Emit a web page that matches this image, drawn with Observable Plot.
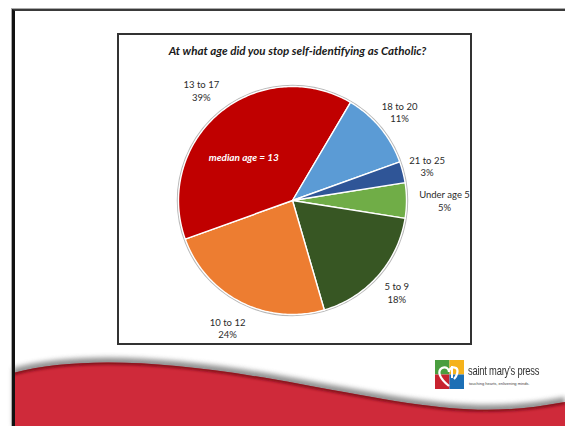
<!DOCTYPE html>
<html>
<head>
<meta charset="utf-8">
<script src="https://cdn.jsdelivr.net/npm/d3@7"></script>
<script src="https://cdn.jsdelivr.net/npm/@observablehq/plot@0.6"></script>
<style>
  html, body { margin: 0; padding: 0; background: #fff; }
  body { width: 565px; height: 426px; position: relative; overflow: hidden; font-family: Lato, "Open Sans", sans-serif; }
  #frame { position: absolute; left: 12px; top: 9px; width: 600px; height: 430px;
           border-top: 2px solid #3a3a3a; border-left: 3px solid #111;
           box-shadow: -1px -1px 0 #aaa; }
  #box { position: absolute; left: 117px; top: 33px; width: 351px; height: 308px;
         border: 2px solid #333; background: #fff; }
  #title { position: absolute; left: 117px; width: 355px; top: 44px; text-align: center;
           font: italic 700 11.6px Lato, sans-serif; color: #1a1a1a; padding-left: 3px; }
  #chart { position: absolute; left: 118px; top: 66px; }
  #deco { position: absolute; left: 0; top: 0; }
  #logo { position: absolute; left: 435px; top: 360px; }
  #brand { position: absolute; left: 468px; top: 363px; font: 400 13px "Liberation Sans Narrow", "Liberation Sans", sans-serif;
           color: #333; transform: scaleX(0.72); transform-origin: left top; white-space: nowrap; letter-spacing: -0.3px; }
  #tag { position: absolute; left: 469px; top: 381px; font: 400 4px "Liberation Sans", sans-serif; color: #444; white-space: nowrap; }
</style>
</head>
<body>
<svg id="deco" width="565" height="426">
  <defs>
    <filter id="sh" x="-10%" y="-30%" width="120%" height="160%">
      <feGaussianBlur stdDeviation="2.5"/>
    </filter>
    <filter id="sh2" x="-10%" y="-30%" width="120%" height="160%">
      <feGaussianBlur stdDeviation="1.6"/>
    </filter>
    <clipPath id="redclip">
      <path d="M13,373 C80,356 170,360 300,384 S480,418 565,402 L565,426 L13,426 Z"/>
    </clipPath>
  </defs>
  <path d="M13,368 C80,351 170,355 300,379 S480,413 565,397 L565,426 L13,426 Z" fill="#777" filter="url(#sh)" opacity="0.8"/>
  <path d="M13,373 C80,356 170,360 300,384 S480,418 565,402 L565,426 L13,426 Z" fill="#cf2a3a"/>
  <g clip-path="url(#redclip)">
    <path d="M13,373 C80,356 170,360 300,384 S480,418 565,402" fill="none" stroke="#7a0f18" stroke-width="4" filter="url(#sh2)"/>
  </g>
</svg>
<div id="frame"></div>
<div id="box"></div>
<div id="title">At what age did you stop self-identifying as Catholic?</div>
<div id="chart"></div>
<svg id="logo" width="29" height="29" viewBox="0 0 29 29">
  <rect x="0" y="0" width="14.5" height="14.5" fill="#4a9e3f"/>
  <rect x="14.5" y="0" width="14.5" height="14.5" fill="#f5b21b"/>
  <rect x="0" y="14.5" width="14.5" height="14.5" fill="#c8232f"/>
  <rect x="14.5" y="14.5" width="14.5" height="14.5" fill="#1c6fb5"/>
  <path d="M14,26 C4,18 2,11 7,8 C11,6 14,9 14,12 C14,9 17,6 21,8 C24,10 22,16 19,19" fill="none" stroke="#fff" stroke-width="2.2"/>
  <path d="M17,6 L17,18" stroke="#fff" stroke-width="2"/>
</svg>
<div id="brand">saint mary's press</div>
<div id="tag">touching hearts, enlivening minds.</div>
<script>
// ---- data ----
const categories = ["Under age 5", "5 to 9", "10 to 12", "13 to 17", "18 to 20", "21 to 25"];
const percents = [5, 18, 24, 39, 11, 3];
const sliceColors = ["#70AD47", "#375623", "#ED7D31", "#C00000", "#5B9BD5", "#2F5597"];
const annotation = "median age = 13";
const annotatedCategory = "13 to 17";

// ---- layout constants ----
const R = 114;
const startDeg = 81;
const labelGap = 25;
const labelNudge = {"Under age 5": 13, "13 to 17": 4, "10 to 12": 4};

const rows = categories.map((c, i) => ({category: c, value: percents[i], color: sliceColors[i]}));
const pie = d3.pie().sort(null).value(d => d.value)
  .startAngle(startDeg * Math.PI / 180)
  .endAngle(startDeg * Math.PI / 180 + 2 * Math.PI);
const arcs = pie(rows);

// polygon vertices for each slice
const poly = [];
for (const a of arcs) {
  poly.push({category: a.data.category, x: 0, y: 0});
  const n = Math.max(2, Math.ceil((a.endAngle - a.startAngle) / (Math.PI / 180)));
  for (let k = 0; k <= n; k++) {
    const t = a.startAngle + (a.endAngle - a.startAngle) * k / n;
    poly.push({category: a.data.category, x: R * Math.sin(t), y: R * Math.cos(t)});
  }
  poly.push({category: a.data.category, x: 0, y: 0});
}

const labels = arcs.map(a => {
  const m = (a.startAngle + a.endAngle) / 2;
  const rr = R + labelGap + (labelNudge[a.data.category] || 0);
  return {text: `${a.data.category}\n${a.data.value}%`, x: rr * Math.sin(m), y: rr * Math.cos(m)};
});

const ann = arcs.filter(a => a.data.category === annotatedCategory).map(a => {
  const m = (a.startAngle + a.endAngle) / 2;
  return {text: annotation, x: 0.56 * R * Math.sin(m) - 8, y: 0.56 * R * Math.cos(m) - 6};
});

const colorScale = {domain: categories, range: sliceColors};

const chart = Plot.plot({
  width: 352,
  height: 276,
  margin: 0,
  x: {domain: [-174, 178], axis: null},
  y: {domain: [-142, 134], axis: null},
  color: colorScale,
  style: {fontFamily: "Lato, sans-serif", background: "transparent", overflow: "visible"},
  marks: [
    Plot.dot([0], {x: () => 0, y: () => 0, r: R + 1, stroke: "#b8b8b8", strokeWidth: 1.5, fill: "none"}),
    Plot.line(poly, {x: "x", y: "y", z: "category", fill: "category", stroke: "#fff", strokeWidth: 1.4, strokeLinejoin: "round", curve: "linear"}),
    Plot.text(labels, {x: "x", y: "y", text: "text", fontSize: 9.5, lineHeight: 1.35, fill: "#2b2b2b", textAnchor: "middle"}),
    Plot.text(ann, {x: "x", y: "y", text: "text", fontSize: 10, fontStyle: "italic", fontWeight: 700, fill: "#fff"})
  ]
});
document.getElementById("chart").appendChild(chart);
</script>
</body>
</html>
